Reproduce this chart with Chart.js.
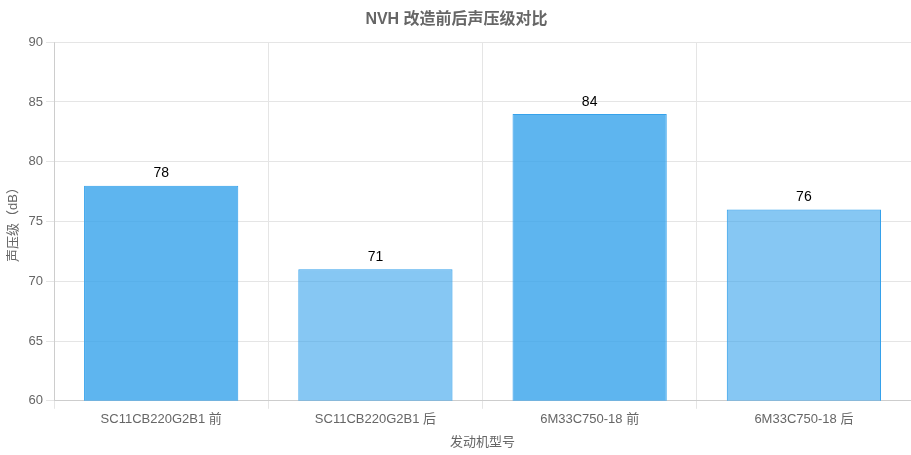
<!DOCTYPE html>
<html>
<head>
<meta charset="utf-8">
<script src="https://cdn.jsdelivr.net/npm/chart.js@4.4.0/dist/chart.umd.min.js"></script>
<style>
    html, body { margin: 0; padding: 0; background: #fff; }
    #wrap { width: 911px; height: 455px; }
</style>
</head>
<body>
<div id="wrap"><canvas id="chart"></canvas></div>
<script>
const categories = ["SC11CB220G2B1 前", "SC11CB220G2B1 后", "6M33C750-18 前", "6M33C750-18 后"];
const soundLevels = [78, 71, 84, 76];
const barColors = ["rgba(54,162,235,0.8)", "rgba(54,162,235,0.6)", "rgba(54,162,235,0.8)", "rgba(54,162,235,0.6)"];

Chart.defaults.font.family = "'Liberation Sans', Arial, 'Noto Sans CJK SC', sans-serif";
Chart.defaults.color = "#666";

// simple value labels above the bars
const valueLabels = {
    id: "valueLabels",
    afterDatasetsDraw(chart) {
        const ctx = chart.ctx;
        const meta = chart.getDatasetMeta(0);
        ctx.save();
        ctx.fillStyle = "#000";
        ctx.font = "14px 'Liberation Sans', Arial, sans-serif";
        ctx.textAlign = "center";
        ctx.textBaseline = "bottom";
        meta.data.forEach((bar, i) => {
            ctx.fillText(String(soundLevels[i]), bar.x, bar.y - 5);
        });
        ctx.restore();
    }
};

new Chart(document.getElementById("chart"), {
    type: "bar",
    data: {
        labels: categories,
        datasets: [{
            label: "声压级",
            data: soundLevels,
            backgroundColor: barColors,
            borderColor: "rgba(54,162,235,1)",
            borderWidth: 1
        }]
    },
    options: {
        responsive: true,
        maintainAspectRatio: false,
        animation: false,
        layout: { padding: { left: 2, right: 0, top: 0, bottom: 1 } },
        plugins: {
            legend: { display: false },
            tooltip: { enabled: false },
            title: {
                display: true,
                text: "NVH 改造前后声压级对比",
                color: "#666",
                font: { size: 16, weight: "bold" },
                padding: { top: 10, bottom: 13 }
            }
        },
        scales: {
            x: {
                grid: { color: "#e5e5e5" },
                ticks: { font: { size: 13 } },
                title: { display: true, text: "发动机型号", font: { size: 13 } }
            },
            y: {
                min: 60,
                max: 90,
                ticks: { stepSize: 5, font: { size: 13 } },
                grid: { color: "#e5e5e5" },
                title: { display: true, text: "声压级（dB）", font: { size: 13 } }
            }
        }
    },
    plugins: [valueLabels]
});
</script>
</body>
</html>
